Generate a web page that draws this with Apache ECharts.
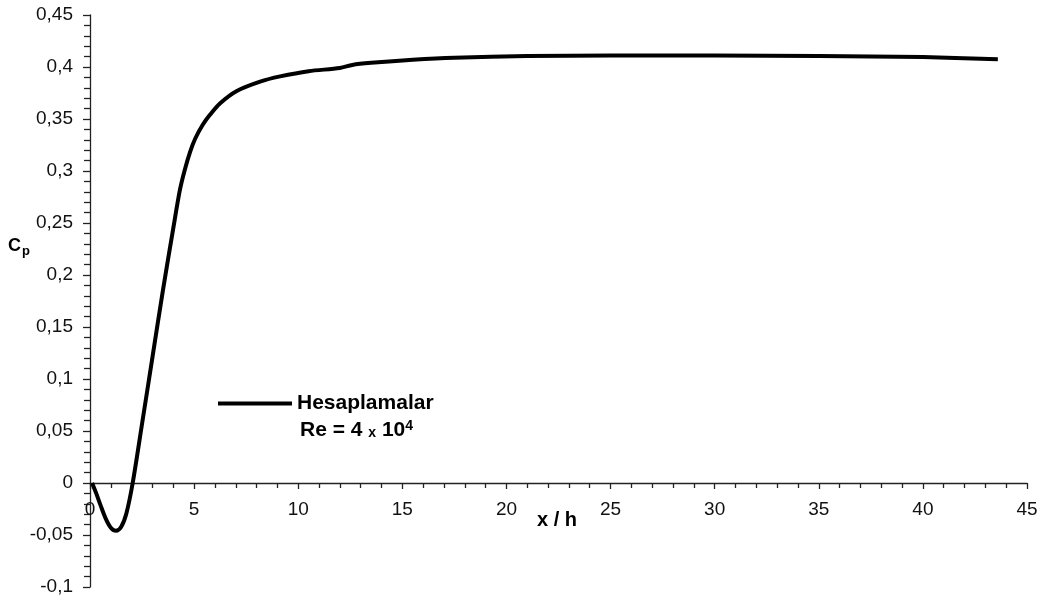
<!DOCTYPE html>
<html>
<head>
<meta charset="utf-8">
<script src="https://cdn.jsdelivr.net/npm/echarts@6/dist/echarts.min.js"></script>
<style>html,body{margin:0;padding:0;background:#fff}#c{width:1043px;height:601px}</style>
</head>
<body>
<div id="c"></div>
<script>
var xValues = [0.1, 0.3, 0.5, 0.75, 1.0, 1.25, 1.5, 1.75, 2.05, 2.5, 3.0, 3.5, 4.0, 4.32, 4.55, 4.8, 5.05, 5.4, 5.76, 6.24, 7.05, 8.17, 9.13, 10.5, 12.0, 12.6, 13.5, 15.5, 17.5, 21, 25, 30, 35, 40, 43.6];
var cpValues = [0, -0.01, -0.021, -0.034, -0.043, -0.046, -0.042, -0.029, 0, 0.057, 0.121, 0.185, 0.245, 0.282, 0.301, 0.318, 0.331, 0.344, 0.354, 0.365, 0.377, 0.386, 0.391, 0.396, 0.399, 0.402, 0.404, 0.407, 0.409, 0.4105, 0.411, 0.411, 0.4105, 0.4095, 0.4075];
var seriesName = 'Hesaplamalar';
var xAxisTitle = 'x / h';
var yMin = -0.1, yMax = 0.45;

var data = xValues.map(function (x, i) { return [x, cpValues[i]]; });
var font = '"Liberation Sans", Arial, sans-serif';
var H = 601, gridTop = 15, gridBottom = 14;
var plotH = H - gridTop - gridBottom;
var zeroOffset = -Math.round(plotH * (0 - yMin) / (yMax - yMin));

var chart = echarts.init(document.getElementById('c'), null, {renderer: 'canvas'});
chart.setOption({
  animation: false,
  backgroundColor: '#fff',
  grid: {left: 90, right: 16, top: gridTop, bottom: gridBottom, containLabel: false, outerBoundsMode: 'none'},
  xAxis: {
    type: 'value', min: 0, max: 45, interval: 5,
    offset: zeroOffset,
    axisLine: {onZero: false, lineStyle: {color: '#222', width: 1.3}},
    axisTick: {show: true, length: 6, inside: false, lineStyle: {color: '#222', width: 1.3}},
    minorTick: {show: true, splitNumber: 5, length: 5, lineStyle: {color: '#222', width: 1.3}},
    axisLabel: {margin: 17, fontSize: 19, color: '#111', fontFamily: font, showMinLabel: true, showMaxLabel: true},
    splitLine: {show: false}
  },
  yAxis: {
    type: 'value', min: yMin, max: yMax, interval: 0.05,
    axisLine: {lineStyle: {color: '#222', width: 1.3}},
    axisTick: {show: true, length: 7, lineStyle: {color: '#222', width: 1.3}},
    minorTick: {show: true, splitNumber: 5, length: 6, lineStyle: {color: '#222', width: 1.3}},
    axisLabel: {margin: 17, fontSize: 19, color: '#111', fontFamily: font,
      formatter: function (v) { return String(parseFloat(v.toFixed(2))).replace('.', ','); }},
    splitLine: {show: false}
  },
  legend: {
    left: 218, top: 393, padding: 0, itemWidth: 74, itemHeight: 4, itemGap: 0,
    icon: 'rect',
    data: [seriesName],
    textStyle: {fontSize: 21, fontWeight: 'bold', color: '#000', fontFamily: font}
  },
  graphic: [
    {type: 'text', left: 300, top: 419, style: {
      text: '{a|Re = 4 }{b|x}{a| 10}{c|4}',
      rich: {
        a: {fontSize: 21, fontWeight: 'bold', fill: '#000', fontFamily: font},
        b: {fontSize: 14, fontWeight: 'bold', fill: '#000', fontFamily: font, padding: [6, 0, 0, 0]},
        c: {fontSize: 14, fontWeight: 'bold', fill: '#000', fontFamily: font, padding: [0, 0, 9, 0]}
      }
    }},
    {type: 'text', left: 537, top: 510, style: {text: xAxisTitle, fontSize: 20, fontWeight: 'bold', fill: '#000', fontFamily: font}},
    {type: 'text', left: 8, top: 237, style: {
      text: '{c|C}{p|p}',
      rich: {
        c: {fontSize: 18, fontWeight: 'bold', fill: '#000', fontFamily: font},
        p: {fontSize: 13, fontWeight: 'bold', fill: '#000', fontFamily: font, padding: [10, 0, 0, 1]}
      }
    }}
  ],
  series: [{
    name: seriesName, type: 'line', data: data,
    smooth: 0.3, showSymbol: false, symbol: 'none',
    lineStyle: {color: '#000', width: 4},
    itemStyle: {color: '#000'}
  }]
});
</script>
</body>
</html>
